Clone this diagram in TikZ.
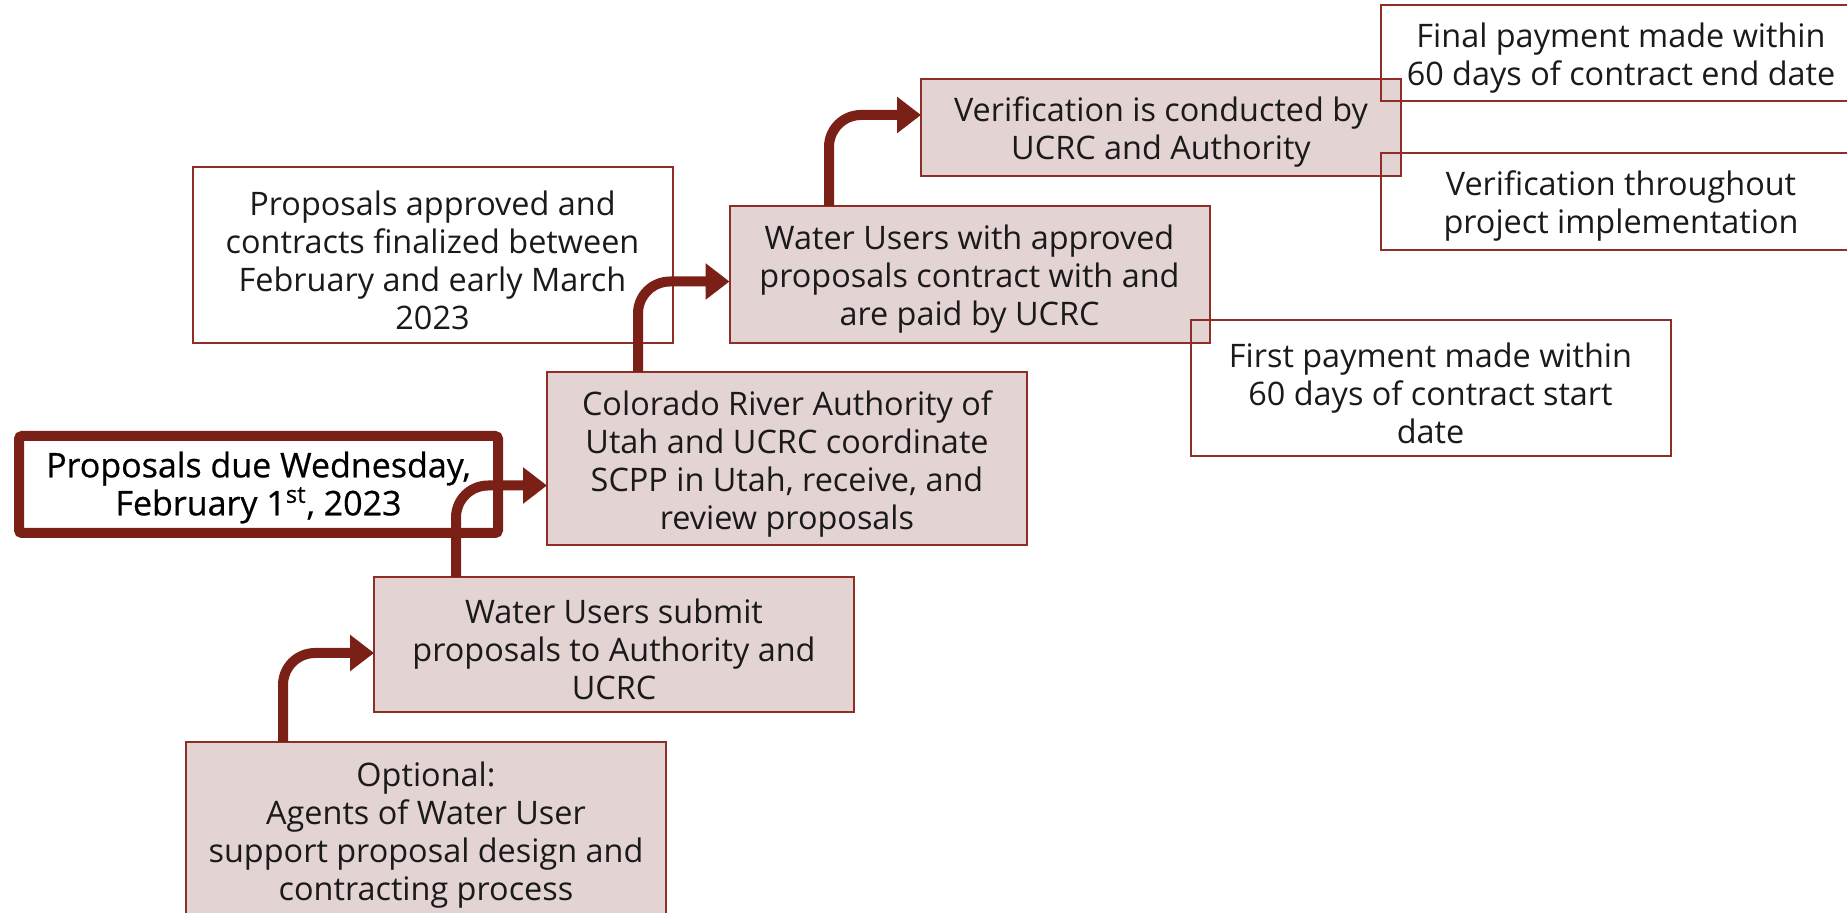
\documentclass[tikz,border=0pt]{standalone}
\usepackage{fontspec}
\setmainfont{Open Sans}
\newfontfamily\duefont[FakeBold=0.6]{Open Sans}
\usetikzlibrary{calc, arrows.meta}
\definecolor{boxfill}{HTML}{E4D3D3}
\definecolor{boxline}{HTML}{8E2E26}
\definecolor{flowred}{HTML}{7A2017}
\definecolor{txt}{HTML}{1A1A1A}
\begin{document}
\begin{tikzpicture}[x=0.5pt,y=-0.5pt,
  every node/.style={font=\fontsize{16.2}{19}\selectfont, text=txt, align=center, inner sep=0pt, outer sep=0pt},
  boxtext/.style={label={[yshift=-2.5pt]center:{#1}}},
  stepbox/.style={draw=boxline, line width=1pt, fill=boxfill, minimum width=240pt},
  notebox/.style={draw=boxline, line width=1pt, minimum width=240pt},
  duebox/.style={draw=flowred, line width=5pt, rounded corners=1.5pt, fill=white, minimum width=239.5pt, minimum height=48.5pt,
    label={[yshift=-1.5pt, text=black, font=\duefont\fontsize{17}{19}\selectfont]center:{#1}}},
  flow/.style={draw=flowred, line width=5pt, rounded corners=16pt, -{Triangle[length=12pt, width=17.5pt]}}]
\useasboundingbox (0,0) rectangle (1847,913);
% steps
\node[stepbox, minimum height=88pt, boxtext={Optional:\\Agents of Water User\\support proposal design and\\contracting process}] (opt) at (426,830) {};
\node[stepbox, minimum height=67.5pt, boxtext={Water Users submit\\proposals to Authority and\\UCRC}] (submit) at (614,644.5) {};
\node[stepbox, minimum height=86.5pt, boxtext={Colorado River Authority of\\Utah and UCRC coordinate\\SCPP in Utah, receive, and\\review proposals}] (colo) at (787,458.5) {};
\node[stepbox, minimum height=68.5pt, boxtext={Water Users with approved\\proposals contract with and\\are paid by UCRC}] (wuapp) at (969.5,274.5) {};
\node[stepbox, minimum height=48.5pt, boxtext={Verification is conducted by\\UCRC and Authority}] (verif) at (1161,127.5) {};
% notes
\node[notebox, minimum height=88pt, boxtext={Proposals approved and\\contracts finalized between\\February and early March\\2023}] (approved) at (432.5,255) {};
\node[notebox, minimum height=68pt, boxtext={First payment made within\\60 days of contract start\\date}] (first) at (1430.5,388) {};
\node[notebox, minimum height=48pt, boxtext={Final payment made within\\60 days of contract end date}] (final) at (1621,53) {};
\node[notebox, minimum height=48.5pt, boxtext={Verification throughout\\project implementation}] (verthru) at (1621,201.5) {};
\node[duebox={Proposals due Wednesday,\\February 1\textsuperscript{st}, 2023}] (due) at (258.5,484.5) {};
% arrows
\draw[flow] ($(opt.north)+(-143,0)$) |- ($(submit.west)+(0,8.5)$);
\draw[flow] ($(submit.north)+(-158,0)$) |- ($(colo.west)+(0,27)$);
\draw[flow] ($(colo.north)+(-149,0)$) |- ($(wuapp.west)+(0,7)$);
\draw[flow] ($(wuapp.north)+(-140.5,0)$) |- ($(verif.west)+(0,-12.5)$);
\end{tikzpicture}
\end{document}
